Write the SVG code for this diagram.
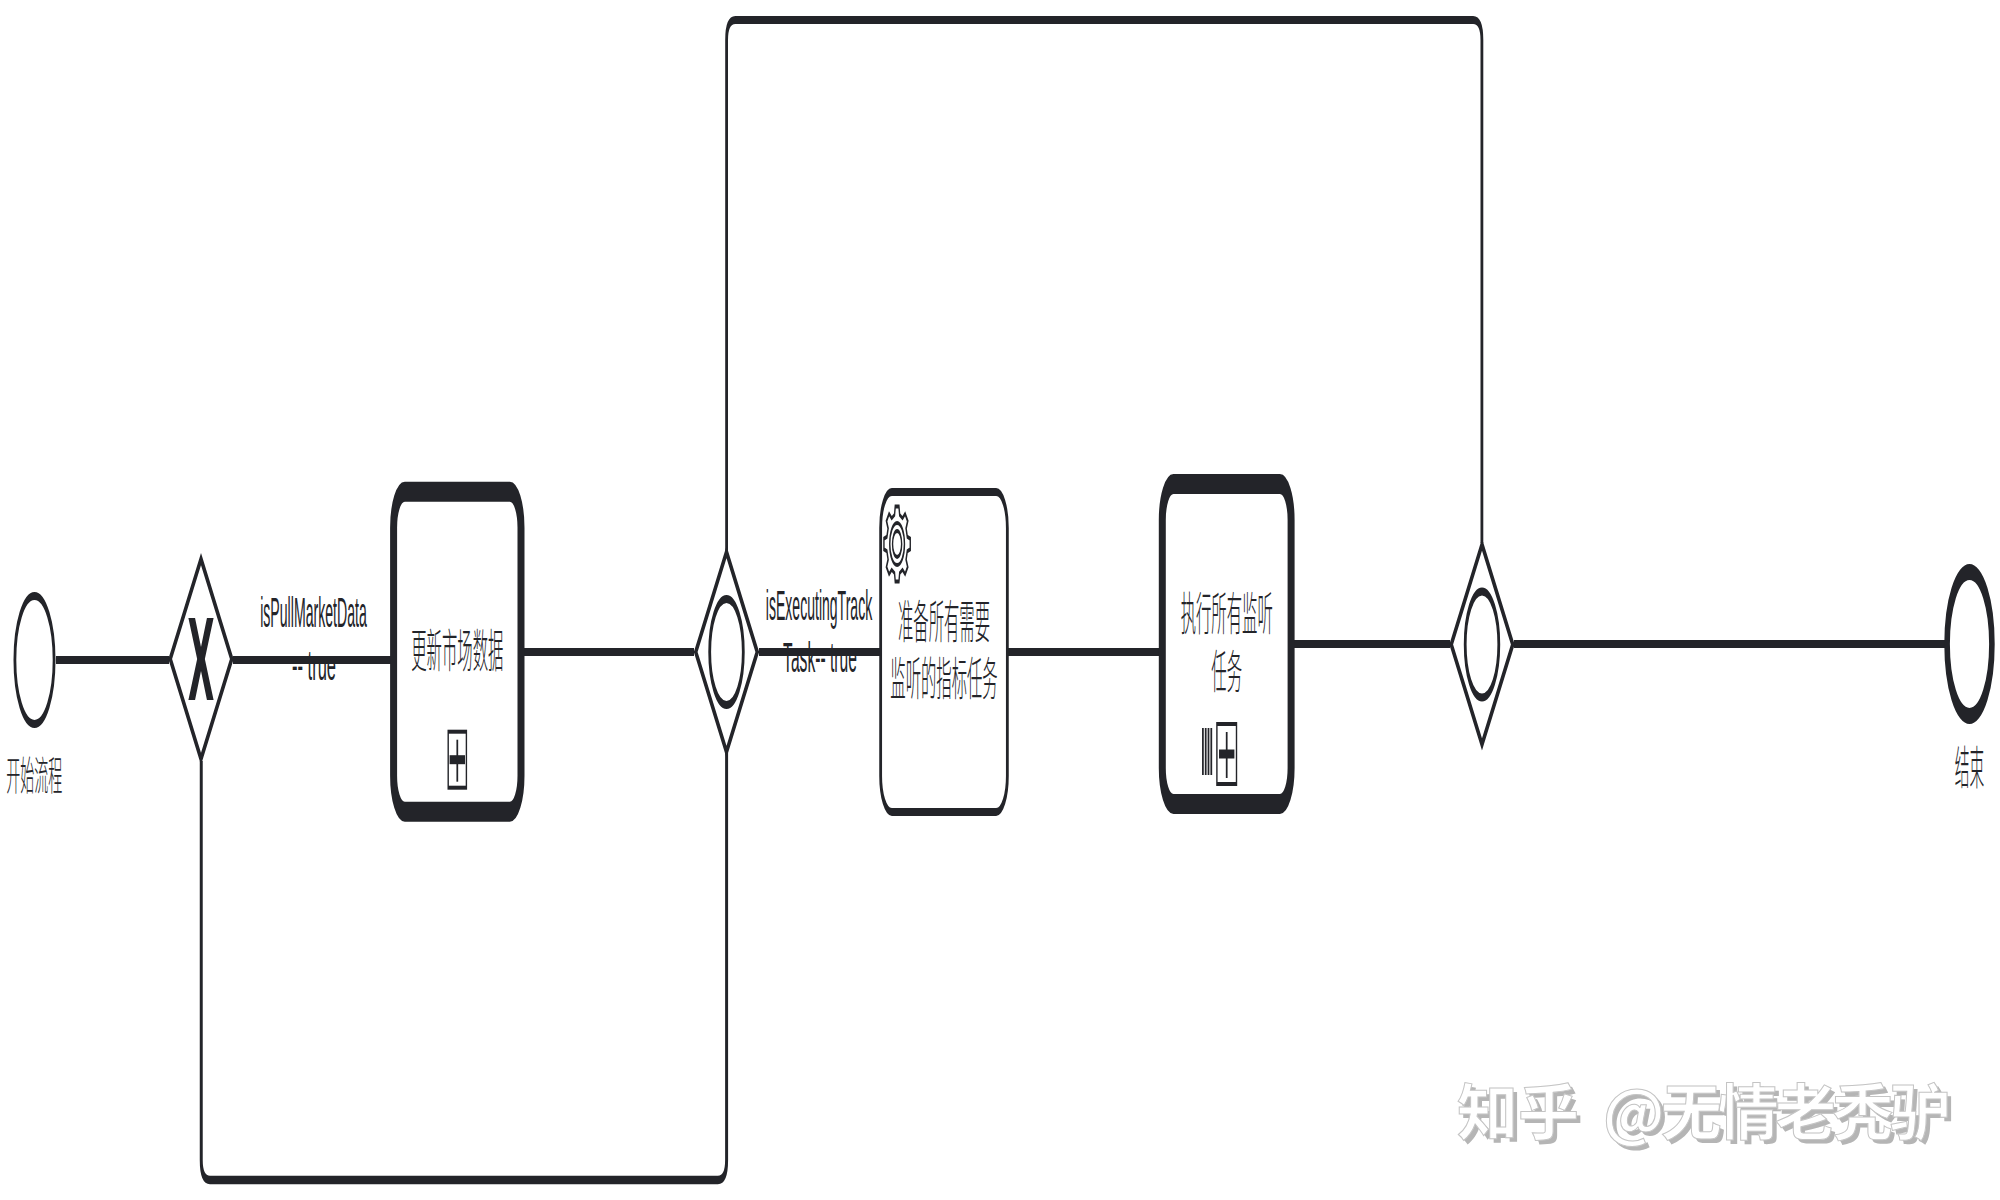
<svg xmlns="http://www.w3.org/2000/svg" width="2000" height="1200" viewBox="0 0 2000 1200">
<style>
.sh{fill:#fff;stroke:#232429;stroke-linejoin:miter}
.w8{stroke-width:8}.w20{stroke-width:20}
.nf{fill:none;stroke:#232429}
.fl{fill:none;stroke:#232429;stroke-width:8}
.cj{font-family:"Noto Sans CJK SC",sans-serif;font-size:46px;font-weight:300;fill:#232429;text-anchor:middle}
.la{font-family:"Liberation Sans","Noto Sans CJK SC",sans-serif;font-size:42px;fill:#232429;text-anchor:middle}
.wm{font-family:"Noto Sans CJK SC",sans-serif;font-size:61px;font-weight:700}
.tight{letter-spacing:-3.800px}
</style>
<defs>
<g id="join"><polygon class="sh w8" points="0,-100 88,0 0,100 -88,0"/></g>
</defs>
<rect width="2000" height="1200" fill="#fff"/>
<g id="connectors">
<line class="fl" x1="56" y1="660" x2="169" y2="660"/>
<line class="fl" x1="233" y1="660" x2="392" y2="660"/>
<line class="fl" x1="522" y1="652" x2="694" y2="652"/>
<line class="fl" x1="759" y1="652" x2="880" y2="652"/>
<line class="fl" x1="1008" y1="652" x2="1162" y2="652"/>
<line class="fl" x1="1291" y1="644" x2="1450" y2="644"/>
<line class="fl" x1="1514" y1="644" x2="1946" y2="644"/>
<g transform="scale(.35 1)">
<path class="nf" stroke-width="8.500" d="M575 761V1160Q575 1180 600 1180H2051Q2076 1180 2076 1160V753"/>
<path class="nf" stroke-width="8" d="M2076 551V40Q2076 20 2101 20H4209Q4234 20 4234 40V543"/>
</g>
</g>
<g id="start" transform="translate(34.500 660) scale(.35 1)">
<ellipse class="sh w8" cx="0" cy="0" rx="56" ry="64"/>
<text class="cj" x="-1" y="130" style="font-size:40px" textLength="160" lengthAdjust="spacingAndGlyphs">开始流程</text>
</g>
<g id="gateway-exclusive" transform="translate(201 659) scale(.35 1)">
<use href="#join"/>
<path fill="#232429" d="M-36-41H-17L0-12 17-41H36L11 0 36 41H17L0 12-17 41H-36L-11 0Z"/>
</g>
<text class="la" transform="translate(313.500 627) scale(.35 1)" textLength="305" lengthAdjust="spacingAndGlyphs">isPullMarketData</text>
<text class="la" transform="translate(314 680) scale(.35 1)" textLength="126" lengthAdjust="spacingAndGlyphs">-- true</text>
<g id="task-update" transform="translate(457.300 651.700) scale(.35 1)">
<rect class="sh w20" x="-182" y="-160" width="364" height="320" rx="32" ry="36"/>
<text class="cj" x="0" y="15" textLength="263" lengthAdjust="spacingAndGlyphs">更新市场数据</text>
<rect class="sh" stroke-width="4" x="-26" y="80" width="52" height="56"/>
<path class="nf" stroke-width="5" d="M0 88V130"/>
<path class="nf" stroke-width="9" stroke-linecap="butt" d="M-22 108H22"/>
</g>
<g id="gateway-join-1" transform="translate(726.500 652) scale(.35 1)">
<use href="#join"/>
<ellipse class="sh w8" cx="0" cy="0" rx="48" ry="53"/>
</g>
<text class="la" transform="translate(819 620) scale(.35 1)" textLength="304" lengthAdjust="spacingAndGlyphs">isExecutingTrack</text>
<text class="la" transform="translate(820 672) scale(.35 1)" textLength="211" lengthAdjust="spacingAndGlyphs">Task-- true</text>
<g id="task-prepare" transform="translate(944 652) scale(.35 1)">
<rect class="sh w8" x="-181" y="-160" width="362" height="320" rx="32" ry="36"/>
<g transform="translate(-134 -108)" class="nf" stroke-width="4">
<polygon points="29.100,-7.300 37.600,-5.300 37.600,5.300 29.100,7.300 25.700,15.500 30.300,22.900 22.900,30.300 15.500,25.700 7.300,29.100 5.300,37.600 -5.300,37.600 -7.300,29.100 -15.500,25.700 -22.900,30.300 -30.300,22.900 -25.700,15.500 -29.100,7.300 -37.600,5.300 -37.600,-5.300 -29.100,-7.300 -25.700,-15.500 -30.300,-22.900 -22.900,-30.300 -15.500,-25.700 -7.300,-29.100 -5.300,-37.600 5.300,-37.600 7.300,-29.100 15.500,-25.700 22.900,-30.300 30.300,-22.900 25.700,-15.500"/>
<circle r="21"/><circle r="13"/>
</g>
<text class="cj" x="0" y="-14" textLength="263" lengthAdjust="spacingAndGlyphs">准备所有需要</text>
<text class="cj" x="0" y="43" textLength="307" lengthAdjust="spacingAndGlyphs">监听的指标任务</text>
</g>
<g id="task-execute" transform="translate(1226.700 644) scale(.35 1)">
<rect class="sh w20" x="-184" y="-160" width="368" height="320" rx="32" ry="36"/>
<text class="cj" x="0" y="-14" textLength="263" lengthAdjust="spacingAndGlyphs">执行所有监听</text>
<text class="cj" x="0" y="44" textLength="88" lengthAdjust="spacingAndGlyphs">任务</text>
<path class="nf" stroke-width="5" d="M-68 84V131M-60 84V131M-52 84V131M-44 84V131"/>
<rect class="sh" stroke-width="4" x="-28" y="80" width="56" height="60"/>
<path class="nf" stroke-width="5" d="M0 88V134"/>
<path class="nf" stroke-width="9" stroke-linecap="butt" d="M-22 110H22"/>
</g>
<g id="gateway-join-2" transform="translate(1482 644.500) scale(.35 1)">
<use href="#join"/>
<ellipse class="sh w8" cx="0" cy="0" rx="48" ry="53"/>
</g>
<g id="end" transform="translate(1969.500 644) scale(.35 1)">
<ellipse class="sh" stroke-width="16" cx="0" cy="0" rx="64" ry="72"/>
<text class="cj" x="0" y="140" textLength="84" lengthAdjust="spacingAndGlyphs">结束</text>
</g>
<g id="watermark" class="wm">
<text y="1139" fill="#b5b5b5"><tspan x="1461">知乎</tspan> <tspan class="tight" x="1607">@无情老秃驴</tspan></text>
<text y="1135" fill="#fff" stroke="#c4c4c4" stroke-width="1"><tspan x="1457">知乎</tspan> <tspan class="tight" x="1603">@无情老秃驴</tspan></text>
</g>
</svg>
